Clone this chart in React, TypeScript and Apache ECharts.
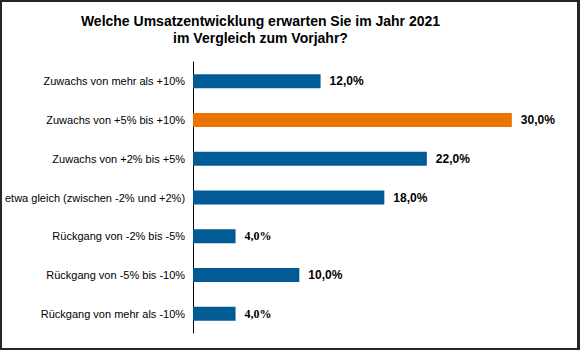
import React, { useEffect, useRef } from "react";
import * as echarts from "echarts";

const categories = [
  "Zuwachs von mehr als +10%",
  "Zuwachs von +5% bis +10%",
  "Zuwachs von +2% bis +5%",
  "etwa gleich (zwischen -2% und +2%)",
  "Rückgang von -2% bis -5%",
  "Rückgang von -5% bis -10%",
  "Rückgang von mehr als -10%",
];
const values = [12, 30, 22, 18, 4, 10, 4];
const highlighted = [false, true, false, false, false, false, false];
const serifLabel = [false, false, false, false, true, false, true];
const titleLines = [
  "Welche Umsatzentwicklung erwarten Sie im Jahr 2021",
  "im Vergleich zum Vorjahr?",
];

const BLUE = "#015B95";
const ORANGE = "#EC7404";

export default function App() {
  const ref = useRef<HTMLDivElement>(null);
  useEffect(() => {
    if (!ref.current) return;
    const chart = echarts.init(ref.current, null, { renderer: "svg" });
    chart.setOption({
      animation: false,
      backgroundColor: "#ffffff",
      title: {
        text: titleLines.join("\n"),
        left: 258.5,
        textAlign: "center",
        top: 10,
        padding: 0,
        textStyle: {
          fontFamily: "Liberation Sans, Arial, sans-serif",
          fontWeight: "bold",
          fontSize: 14,
          lineHeight: 17,
          color: "#000",
        },
      },
      grid: { left: 186, top: 60, width: 377, height: 271, containLabel: false },
      xAxis: {
        type: "value",
        min: 0,
        max: 35,
        show: false,
      },
      yAxis: {
        type: "category",
        data: categories,
        inverse: true,
        axisLine: { show: true, lineStyle: { color: "#000", width: 1 } },
        axisTick: { show: false },
        splitLine: { show: false },
        axisLabel: {
          margin: 8,
          fontFamily: "Liberation Sans, Arial, sans-serif",
          fontSize: 11,
          color: "#000",
        },
      },
      series: [
        {
          type: "bar",
          barWidth: 14,
          data: values.map((v, i) => ({
            value: v,
            itemStyle: { color: highlighted[i] ? ORANGE : BLUE },
            label: serifLabel[i]
              ? { fontFamily: "Liberation Serif, Times New Roman, serif" }
              : undefined,
          })),
          label: {
            show: true,
            position: "right",
            distance: 9,
            fontFamily: "Liberation Sans, Arial, sans-serif",
            fontWeight: "bold",
            fontSize: 12,
            color: "#000",
            formatter: (p: any) => p.value.toFixed(1).replace(".", ",") + "%",
          },
        },
      ],
    });
    return () => chart.dispose();
  }, []);
  return (
    <div
      style={{
        position: "absolute",
        left: 0,
        top: 0,
        width: 580,
        height: 350,
        boxSizing: "border-box",
        borderStyle: "solid",
        borderColor: "#262626",
        borderWidth: "2px 3px 2px 2px",
        background: "#fff",
      }}
    >
      <div ref={ref} style={{ width: 575, height: 346 }} />
    </div>
  );
}
